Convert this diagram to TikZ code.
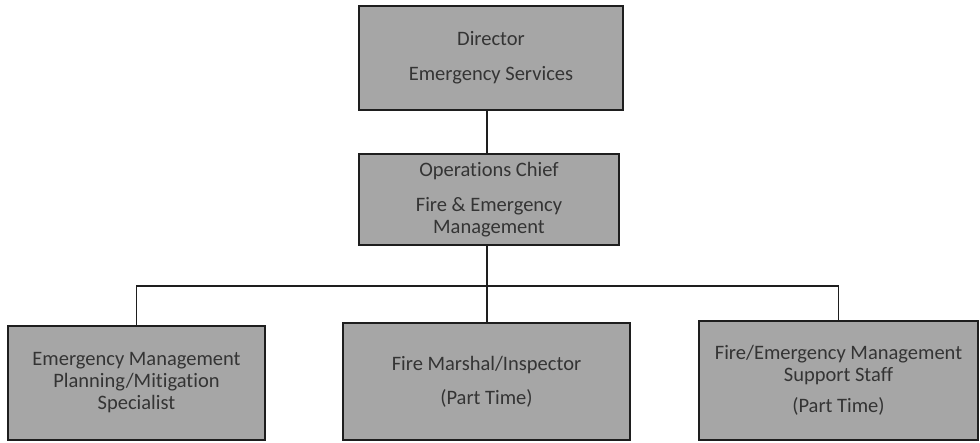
\documentclass[tikz,border=0pt]{standalone}
\usepackage{fontspec}
\setmainfont[Ligatures=NoCommon]{Carlito}
\usetikzlibrary{calc}
\definecolor{boxfill}{RGB}{166,166,166}
\definecolor{boxtext}{RGB}{52,52,52}
\definecolor{linecol}{RGB}{30,30,30}
\begin{document}
\begin{tikzpicture}[x=1pt,y=-1pt,
  orgbox/.style={draw=linecol, line width=1.3pt, fill=boxfill, text=boxtext,
    align=center, inner sep=0pt, font=\fontsize{20.5}{22}\selectfont},
  link/.style={draw=linecol, line width=1.8pt}]
  \useasboundingbox[fill=white] (0,0) rectangle (980,443);

  % top level
  \node[orgbox, minimum width=264, minimum height=104] (dir) at (491,58)
    {Director\\[13pt]Emergency Services};
  % second level
  \node[orgbox, minimum width=260, minimum height=91] (ops) at (489,199.5)
    {Operations Chief\\[13pt]Fire \& Emergency\\Management};
  % third level
  \node[orgbox, minimum width=257, minimum height=114] (plan) at (136.5,383)
    {Emergency Management\\Planning/Mitigation\\Specialist};
  \node[orgbox, minimum width=287, minimum height=117] (fm) at (486.5,381.5)
    {Fire Marshal/Inspector\\[12pt](Part Time)};
  \node[orgbox, minimum width=279, minimum height=119] (staff) at (838.5,380.5)
    {Fire/Emergency Management\\Support Staff\\[9pt](Part Time)};

  % connectors
  \coordinate (trunk) at (487,0);
  \coordinate (bus) at (487,286);
  \draw[link] (dir.south -| trunk) -- (ops.north -| trunk);
  \draw[link] (ops.south -| trunk) -- (bus);
  \draw[link] (plan.north) |- (bus) -| (staff.north);
  \draw[link] (bus) -- (fm.north -| bus);
\end{tikzpicture}
\end{document}
